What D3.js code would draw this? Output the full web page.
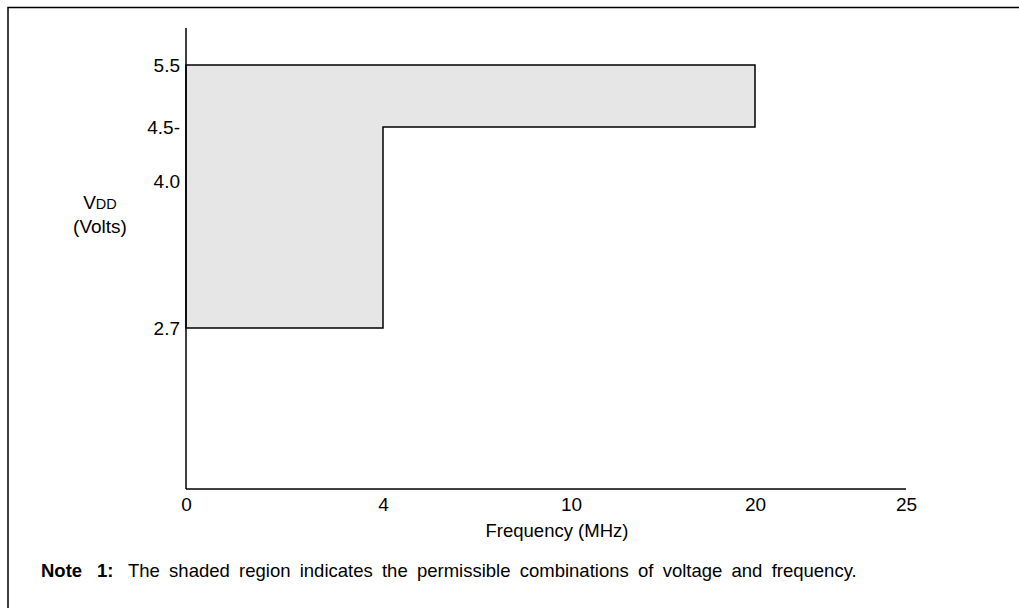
<!DOCTYPE html>
<html>
<head>
<meta charset="utf-8">
<script src="https://cdn.jsdelivr.net/npm/d3@7"></script>
<style>
  body { margin: 0; background: #fff; }
  svg text { font-family: "Liberation Sans", Arial, sans-serif; fill: #000; }
</style>
</head>
<body>
<div id="chart"></div>
<script>
// Operating region: VDD vs frequency (schematic, non-linear axes)

var freqTicks = [0, 4, 10, 20, 25]
var vddTicks = [5.5, 4.5, 4.0, 2.7]
var vddLabels = ["5.5", "4.5-", "4.0", "2.7"]

// outline of the shaded region, corner by corner
var regionFreq = [0, 20, 20, 4, 4, 0]
var regionVdd = [5.5, 5.5, 4.5, 4.5, 2.7, 2.7]

var xTitle = "Frequency (MHz)"
var noteText = "The shaded region indicates the permissible combinations of voltage and frequency."

var width = 1019, height = 608
var plotTop = 28, plotBottom = 489

var svg = d3.select("#chart")
  .append("svg")
    .attr("width", width)
    .attr("height", height)

// frame (left and top edge only, the rest is cut off)
svg.append("path")
  .attr("d", "M8," + height + "V7.5H" + width)
  .attr("fill", "none")
  .attr("stroke", "#000")
  .attr("stroke-width", 1.5)

// scales are piecewise, the drawing is not to scale
var x = d3.scaleLinear()
  .domain(freqTicks)
  .range([186, 383, 571, 755, 906])

var y = d3.scaleLinear()
  .domain([2.7, 4.0, 4.5, 5.5])
  .range([328, 181, 127, 65])

// shaded region
var pts = regionFreq.map(function(f, i) { return [x(f), y(regionVdd[i])] })
svg.append("path")
  .attr("d", d3.line()(pts) + "Z")
  .attr("fill", "#e6e6e6")
  .attr("stroke", "#000")
  .attr("stroke-width", 1.5)

// axis lines
svg.append("line")
  .attr("x1", x(0)).attr("x2", x(0))
  .attr("y1", plotTop).attr("y2", plotBottom)
  .attr("stroke", "#000").attr("stroke-width", 1.5)
svg.append("line")
  .attr("x1", x(0)).attr("x2", x(25))
  .attr("y1", plotBottom).attr("y2", plotBottom)
  .attr("stroke", "#000").attr("stroke-width", 1.5)

// tick labels
var yAxis = svg.append("g")
  .attr("transform", "translate(" + x(0) + ",0)")
  .call(d3.axisLeft(y)
    .tickValues(vddTicks)
    .tickFormat(function(d, i) { return vddLabels[i] })
    .tickSize(0)
    .tickPadding(6))
yAxis.select(".domain").remove()

var xAxis = svg.append("g")
  .attr("transform", "translate(0," + plotBottom + ")")
  .call(d3.axisBottom(x)
    .tickValues(freqTicks)
    .tickFormat(d3.format("d"))
    .tickSize(0)
    .tickPadding(9))
xAxis.select(".domain").remove()

svg.selectAll(".tick text")
  .attr("font-family", "Liberation Sans, Arial, sans-serif")
  .attr("font-size", 19)
  .attr("fill", "#000")

// axis titles
var yTitle = svg.append("text")
  .attr("x", 100)
  .attr("y", 209)
  .attr("text-anchor", "middle")
  .attr("font-size", 19)
yTitle.append("tspan").text("V")
yTitle.append("tspan").attr("font-size", 14.5).text("DD")

svg.append("text")
  .attr("x", 100)
  .attr("y", 233)
  .attr("text-anchor", "middle")
  .attr("font-size", 19)
  .text("(Volts)")

svg.append("text")
  .attr("x", 557)
  .attr("y", 537)
  .attr("text-anchor", "middle")
  .attr("font-size", 18.5)
  .text(xTitle)

// note
svg.append("text")
  .attr("x", 41)
  .attr("y", 577)
  .attr("font-size", 18.5)
  .attr("font-weight", "bold")
  .text("Note")
svg.append("text")
  .attr("x", 97)
  .attr("y", 577)
  .attr("font-size", 18.5)
  .attr("font-weight", "bold")
  .text("1:")

svg.append("text")
  .attr("x", 128)
  .attr("y", 577)
  .attr("font-size", 18.5)
  .attr("word-spacing", 4.1)
  .text(noteText)
</script>
</body>
</html>
